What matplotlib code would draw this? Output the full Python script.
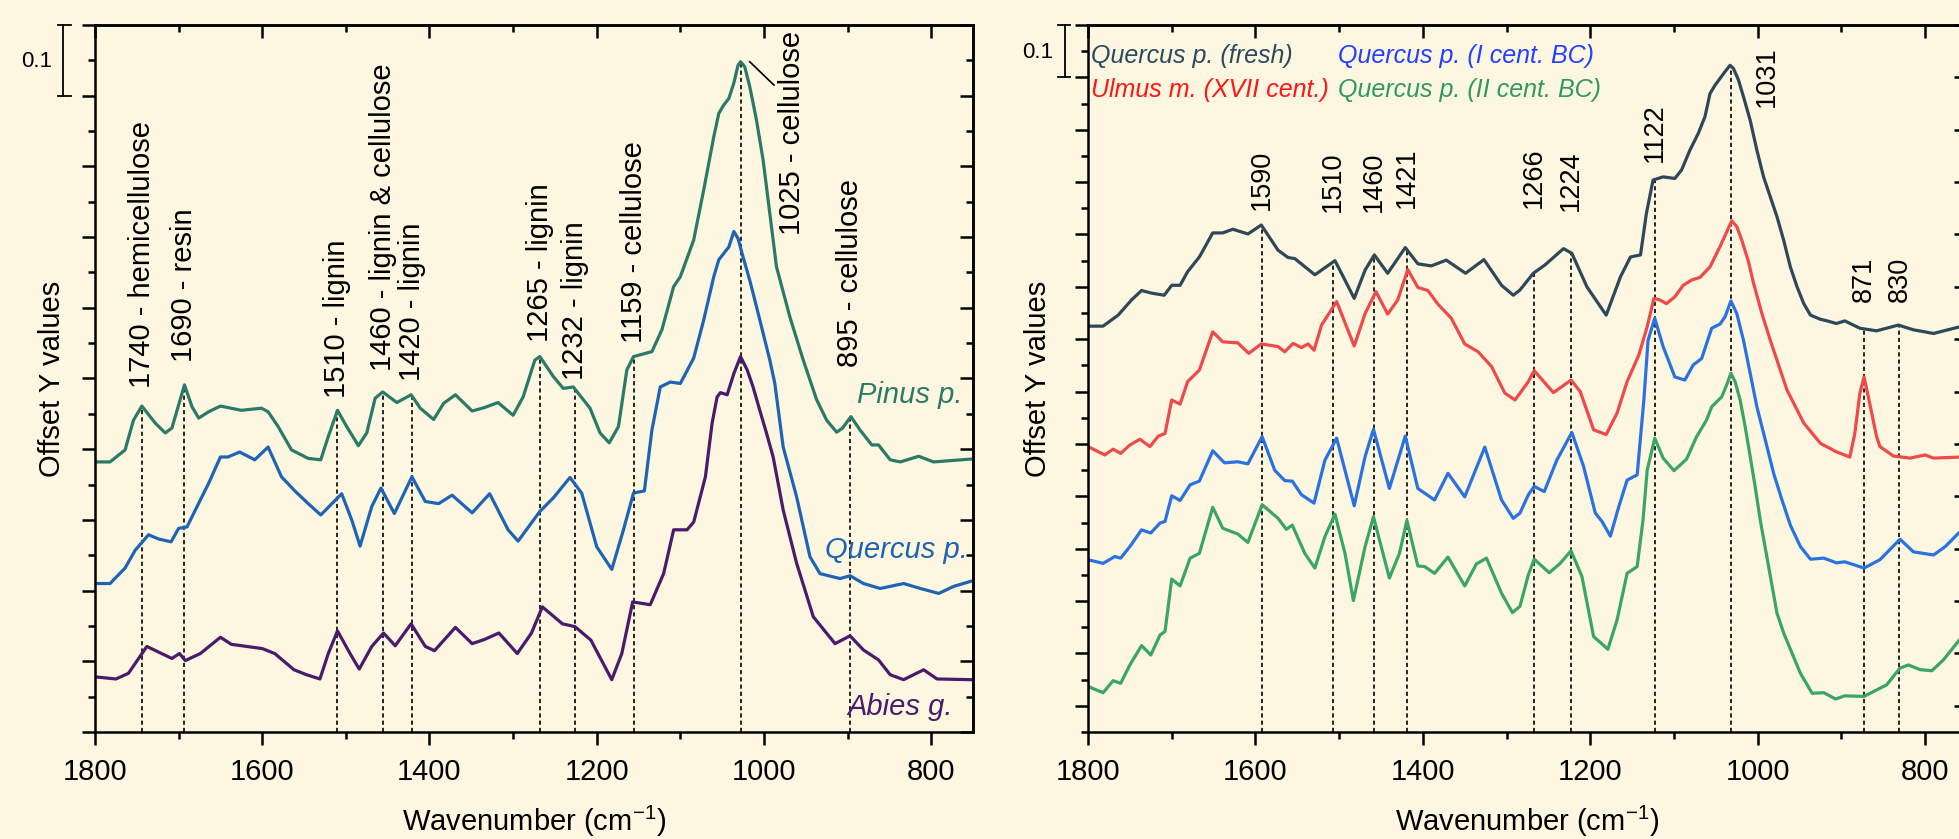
import numpy as np
import matplotlib
matplotlib.use("Agg")
import matplotlib.pyplot as plt
from matplotlib.ticker import MultipleLocator
import matplotlib.transforms as mtransforms

plt.rcParams['font.family'] = ['Liberation Sans', 'DejaVu Sans']
plt.rcParams['mathtext.fontset'] = 'custom'
plt.rcParams['mathtext.rm'] = 'Liberation Sans'
plt.rcParams['mathtext.default'] = 'regular'
plt.rcParams['lines.scale_dashes'] = False

# ---------------- left panel data (wavenumber, offset absorbance) ----------------
pinus_wn = [1800, 1782, 1764, 1754, 1744, 1728, 1716, 1708, 1693, 1684, 1676, 1664, 1650, 1625,
            1601, 1593, 1581, 1565, 1545, 1530, 1521, 1510, 1499, 1485, 1475, 1465, 1456, 1439,
            1422, 1411, 1395, 1383, 1369, 1349, 1334, 1318, 1300, 1288, 1274, 1268, 1252, 1240,
            1228, 1208, 1196, 1185, 1174, 1164, 1156, 1134, 1122, 1108, 1100, 1084, 1072, 1060,
            1054, 1048, 1042, 1036, 1031, 1028, 1023, 1017, 1009, 1001, 985, 969, 953, 937, 925,
            913, 906, 896, 885, 871, 863, 849, 837, 815, 797, 753, 750]
pinus_y = [0.382, 0.382, 0.399, 0.441, 0.461, 0.437, 0.423, 0.430, 0.491, 0.460, 0.444, 0.453, 0.461, 0.455,
           0.458, 0.453, 0.432, 0.399, 0.387, 0.385, 0.418, 0.455, 0.432, 0.405, 0.423, 0.472, 0.481, 0.466,
           0.477, 0.458, 0.442, 0.465, 0.477, 0.454, 0.459, 0.466, 0.448, 0.474, 0.526, 0.531, 0.503, 0.486,
           0.488, 0.458, 0.423, 0.409, 0.432, 0.512, 0.531, 0.538, 0.569, 0.630, 0.644, 0.696, 0.767, 0.842,
           0.875, 0.887, 0.896, 0.918, 0.943, 0.948, 0.941, 0.913, 0.866, 0.809, 0.658, 0.587, 0.526, 0.470, 0.441,
           0.424, 0.430, 0.446, 0.427, 0.406, 0.406, 0.385, 0.382, 0.390, 0.382, 0.386, 0.386]

quercus_wn = [1800, 1782, 1764, 1752, 1736, 1724, 1709, 1700, 1690, 1680, 1664, 1650, 1641, 1627,
              1609, 1593, 1577, 1561, 1545, 1530, 1505, 1493, 1483, 1469, 1458, 1442, 1421, 1405,
              1389, 1373, 1349, 1328, 1306, 1294, 1268, 1252, 1232, 1218, 1200, 1182, 1168, 1156,
              1143, 1134, 1124, 1112, 1100, 1084, 1072, 1060, 1054, 1048, 1042, 1036, 1031, 1025,
              1017, 1009, 1001, 993, 987, 977, 961, 945, 933, 909, 897, 881, 861, 833, 813, 791,
              773, 753, 750]
quercus_y = [0.210, 0.210, 0.232, 0.257, 0.279, 0.273, 0.269, 0.288, 0.290, 0.314, 0.352, 0.389, 0.389, 0.396,
             0.385, 0.403, 0.361, 0.341, 0.323, 0.307, 0.337, 0.300, 0.263, 0.319, 0.345, 0.309, 0.361, 0.326,
             0.323, 0.335, 0.310, 0.337, 0.286, 0.270, 0.312, 0.331, 0.360, 0.338, 0.262, 0.230, 0.286, 0.338,
             0.341, 0.427, 0.488, 0.495, 0.493, 0.529, 0.583, 0.644, 0.668, 0.677, 0.686, 0.708, 0.698, 0.672,
             0.639, 0.602, 0.564, 0.526, 0.493, 0.403, 0.333, 0.248, 0.224, 0.217, 0.221, 0.210, 0.203, 0.210, 0.203, 0.196,
             0.206, 0.213, 0.214]

abies_wn = [1800, 1775, 1760, 1738, 1708, 1699, 1692, 1674, 1650, 1637, 1600, 1585, 1562, 1547,
            1531, 1521, 1510, 1495, 1484, 1469, 1455, 1441, 1422, 1405, 1394, 1369, 1349, 1334,
            1317, 1295, 1278, 1265, 1241, 1226, 1207, 1182, 1170, 1157, 1136, 1120, 1108, 1092,
            1084, 1070, 1062, 1056, 1052, 1044, 1036, 1028, 1020, 1013, 1005, 997, 989, 977, 961,
            941, 915, 897, 881, 863, 849, 833, 809, 793, 753, 750]
abies_y = [0.078, 0.075, 0.083, 0.121, 0.104, 0.111, 0.101, 0.111, 0.134, 0.124, 0.118, 0.111, 0.088, 0.081,
           0.075, 0.111, 0.143, 0.111, 0.089, 0.121, 0.140, 0.122, 0.153, 0.121, 0.115, 0.148, 0.125, 0.131,
           0.140, 0.111, 0.140, 0.177, 0.153, 0.149, 0.130, 0.074, 0.111, 0.184, 0.180, 0.224, 0.286, 0.286,
           0.297, 0.361, 0.437, 0.474, 0.480, 0.477, 0.507, 0.531, 0.512, 0.488, 0.455, 0.423, 0.389, 0.314, 0.239,
           0.163, 0.125, 0.136, 0.116, 0.102, 0.081, 0.074, 0.088, 0.075, 0.074, 0.074]

left_marks = [1744, 1693, 1510, 1456, 1421, 1268, 1226, 1156, 1028, 897]
left_labels = ['1740 - hemicellulose', '1690 - resin', '1510 - lignin', '1460 - lignin & cellulose',
               '1420 - lignin', '1265 - lignin', '1232 - lignin', '1159 - cellulose',
               '1025 - cellulose', '895 - cellulose']

# ---------------- right panel data ----------------
fresh_wn = [1800, 1782, 1764, 1748, 1736, 1724, 1709, 1700, 1690, 1681, 1667, 1651, 1639, 1627,
            1609, 1593, 1573, 1561, 1553, 1529, 1505, 1495, 1482, 1469, 1458, 1442, 1421, 1406,
            1390, 1372, 1349, 1327, 1306, 1292, 1284, 1268, 1254, 1232, 1222, 1204, 1181, 1164,
            1152, 1140, 1133, 1125, 1113, 1099, 1091, 1081, 1071, 1063, 1057, 1051, 1045, 1039,
            1033, 1029, 1023, 1017, 1009, 1001, 993, 985, 977, 969, 961, 953, 945, 937, 925, 917,
            906, 896, 878, 858, 832, 814, 790, 758]
fresh_y = [0.725, 0.725, 0.746, 0.775, 0.793, 0.788, 0.784, 0.803, 0.803, 0.829, 0.857, 0.903, 0.903, 0.910,
           0.901, 0.918, 0.870, 0.856, 0.854, 0.823, 0.850, 0.819, 0.778, 0.832, 0.861, 0.826, 0.875, 0.844,
           0.840, 0.851, 0.826, 0.852, 0.803, 0.784, 0.794, 0.826, 0.842, 0.873, 0.864, 0.800, 0.746, 0.819,
           0.857, 0.861, 0.940, 1.004, 1.010, 1.007, 1.023, 1.061, 1.093, 1.125, 1.169, 1.185, 1.198, 1.211,
           1.223, 1.217, 1.195, 1.163, 1.118, 1.061, 1.010, 0.972, 0.934, 0.889, 0.838, 0.800, 0.768, 0.746, 0.738, 0.735,
           0.730, 0.735, 0.721, 0.716, 0.727, 0.718, 0.711, 0.724]

ulmus_wn = [1800, 1780, 1770, 1761, 1750, 1738, 1726, 1716, 1708, 1700, 1690, 1681, 1667, 1651,
            1639, 1621, 1608, 1593, 1573, 1565, 1555, 1545, 1537, 1530, 1521, 1503, 1482, 1469,
            1456, 1442, 1430, 1418, 1406, 1394, 1382, 1366, 1350, 1334, 1318, 1302, 1290, 1284,
            1274, 1267, 1244, 1223, 1212, 1196, 1181, 1168, 1156, 1142, 1132, 1124, 1117, 1109,
            1099, 1089, 1079, 1069, 1057, 1045, 1037, 1031, 1025, 1019, 1011, 1005, 995, 985, 965,
            945, 925, 906, 890, 884, 878, 873, 868, 858, 854, 838, 818, 800, 790, 758]
ulmus_y = [0.495, 0.479, 0.490, 0.482, 0.498, 0.509, 0.495, 0.515, 0.520, 0.584, 0.576, 0.619, 0.641, 0.714,
           0.695, 0.693, 0.673, 0.691, 0.686, 0.676, 0.692, 0.684, 0.691, 0.679, 0.727, 0.772, 0.687, 0.749,
           0.791, 0.748, 0.775, 0.833, 0.799, 0.793, 0.767, 0.740, 0.691, 0.676, 0.648, 0.597, 0.584, 0.597,
           0.619, 0.640, 0.598, 0.622, 0.600, 0.527, 0.518, 0.559, 0.619, 0.670, 0.724, 0.778, 0.775, 0.768,
           0.781, 0.803, 0.813, 0.818, 0.838, 0.877, 0.905, 0.926, 0.915, 0.889, 0.848, 0.807, 0.749, 0.698, 0.603,
           0.540, 0.501, 0.485, 0.475, 0.520, 0.597, 0.628, 0.591, 0.514, 0.495, 0.477, 0.473, 0.479, 0.473, 0.475]

icent_wn = [1800, 1782, 1768, 1761, 1750, 1736, 1725, 1714, 1708, 1700, 1690, 1678, 1667, 1651,
            1637, 1621, 1609, 1592, 1577, 1565, 1556, 1545, 1530, 1517, 1503, 1482, 1469, 1459,
            1440, 1421, 1406, 1386, 1370, 1350, 1326, 1306, 1292, 1284, 1274, 1267, 1255, 1240,
            1222, 1208, 1194, 1186, 1176, 1166, 1156, 1144, 1136, 1131, 1123, 1113, 1099, 1087,
            1077, 1067, 1055, 1045, 1039, 1032, 1025, 1017, 1009, 1001, 991, 981, 971, 961, 949,
            937, 921, 906, 896, 873, 854, 830, 814, 790, 776, 758]
icent_y = [0.279, 0.272, 0.285, 0.282, 0.304, 0.336, 0.330, 0.349, 0.352, 0.401, 0.392, 0.422, 0.429, 0.487,
           0.464, 0.466, 0.462, 0.514, 0.450, 0.430, 0.429, 0.403, 0.387, 0.469, 0.511, 0.382, 0.476, 0.528,
           0.415, 0.515, 0.415, 0.393, 0.444, 0.399, 0.494, 0.393, 0.358, 0.368, 0.403, 0.419, 0.409, 0.469,
           0.522, 0.457, 0.368, 0.352, 0.324, 0.380, 0.431, 0.441, 0.584, 0.698, 0.740, 0.686, 0.628, 0.622,
           0.651, 0.663, 0.721, 0.729, 0.743, 0.773, 0.749, 0.698, 0.635, 0.571, 0.508, 0.444, 0.393, 0.345, 0.304,
           0.280, 0.282, 0.273, 0.275, 0.263, 0.279, 0.318, 0.294, 0.288, 0.304, 0.333]

iicent_wn = [1800, 1782, 1770, 1761, 1750, 1736, 1725, 1714, 1708, 1700, 1690, 1678, 1667, 1651,
             1639, 1621, 1609, 1592, 1573, 1563, 1556, 1541, 1529, 1517, 1505, 1493, 1483, 1469,
             1459, 1440, 1428, 1419, 1406, 1398, 1386, 1370, 1350, 1336, 1324, 1306, 1293, 1284,
             1274, 1267, 1249, 1236, 1223, 1210, 1196, 1188, 1179, 1168, 1156, 1144, 1137, 1132,
             1123, 1113, 1100, 1085, 1073, 1061, 1055, 1043, 1037, 1032, 1027, 1021, 1015, 1009,
             1003, 997, 987, 977, 969, 949, 935, 921, 907, 896, 873, 862, 846, 830, 820, 806, 792,
             778, 758]
iicent_y = [0.037, 0.025, 0.048, 0.043, 0.078, 0.115, 0.097, 0.135, 0.142, 0.242, 0.229, 0.282, 0.291, 0.379,
            0.339, 0.328, 0.312, 0.384, 0.358, 0.337, 0.345, 0.291, 0.263, 0.323, 0.366, 0.291, 0.201, 0.304,
            0.361, 0.244, 0.291, 0.354, 0.267, 0.266, 0.253, 0.284, 0.229, 0.271, 0.282, 0.215, 0.178, 0.190,
            0.250, 0.280, 0.254, 0.272, 0.296, 0.247, 0.132, 0.121, 0.108, 0.164, 0.253, 0.266, 0.355, 0.450,
            0.511, 0.473, 0.449, 0.471, 0.514, 0.546, 0.571, 0.590, 0.613, 0.635, 0.619, 0.584, 0.533, 0.476,
            0.418, 0.355, 0.266, 0.177, 0.139, 0.062, 0.024, 0.025, 0.013, 0.019, 0.018, 0.027, 0.040, 0.072, 0.078,
            0.069, 0.067, 0.088, 0.128]

right_marks = [1592, 1507, 1458, 1419, 1267, 1223, 1123, 1032, 873, 831]
right_labels = ['1590', '1510', '1460', '1421', '1266', '1224', '1122', '1031', '871', '830']

# ---------------- figure ----------------
BG = '#fdf7e1'
LW = 2.3
fig = plt.figure(figsize=(19.59, 8.39), dpi=100, facecolor=BG)
ax1 = fig.add_axes([95 / 1959, 107 / 839, 878 / 1959, 707 / 839])
ax2 = fig.add_axes([1088 / 1959, 107 / 839, 879 / 1959, 707 / 839])


def style(ax, ylo, yhi):
    ax.set_facecolor(BG)
    ax.set_xlim(1800, 750)
    ax.set_ylim(ylo, yhi)
    ax.xaxis.set_major_locator(MultipleLocator(200))
    ax.xaxis.set_minor_locator(MultipleLocator(100))
    ax.yaxis.set_major_locator(MultipleLocator(0.1))
    ax.yaxis.set_minor_locator(MultipleLocator(0.05))
    for s in ax.spines.values():
        s.set_linewidth(1.8)
    ax.tick_params(which='both', direction='out', width=1.8, top=False, right=False,
                   labelleft=False, labelsize=21, pad=9)
    ax.tick_params(which='major', length=9.6)
    ax.tick_params(which='minor', length=4.8)
    # inward ticks on top and right
    tx = ax.secondary_xaxis('top')
    tx.xaxis.set_major_locator(MultipleLocator(200))
    tx.xaxis.set_minor_locator(MultipleLocator(100))
    tx.tick_params(which='both', direction='in', width=1.8, labeltop=False)
    tx.tick_params(which='major', length=9.6)
    tx.tick_params(which='minor', length=4.8)
    tx.spines['top'].set_linewidth(1.8)
    ty = ax.secondary_yaxis('right')
    ty.yaxis.set_major_locator(MultipleLocator(0.1))
    ty.yaxis.set_minor_locator(MultipleLocator(0.05))
    ty.tick_params(which='both', direction='in', width=1.8, labelright=False)
    ty.tick_params(which='major', length=9.6)
    ty.tick_params(which='minor', length=4.8)
    ty.spines['right'].set_linewidth(1.8)


def scale_bar(ax, x, xc0, xc1, y0, y1, tx, ty):
    tr = mtransforms.blended_transform_factory(ax.transAxes, ax.transData)
    kw = dict(color='black', lw=1.3, transform=tr, clip_on=False)
    ax.plot([x, x], [y0, y1], **kw)
    ax.plot([xc0, xc1], [y0, y0], **kw)
    ax.plot([xc0, xc1], [y1, y1], **kw)
    ax.text(tx, ty, '0.1', transform=tr, fontsize=16, ha='center', va='center')


def guides(ax, marks, top_wn, top_y, ybot):
    xs = np.array(top_wn[::-1], float)
    ys = np.array(top_y[::-1], float)
    for m in marks:
        ax.plot([m, m], [ybot, np.interp(m, xs, ys)], color='black', lw=1.2,
                linestyle=(0, (3, 2.2)), zorder=1)


def curve(ax, x, y, c):
    ax.plot(x, y, color=c, lw=LW, zorder=2, solid_joinstyle='round', solid_capstyle='round')


# ---- left panel ----
style(ax1, 0, 1.0)
guides(ax1, left_marks, pinus_wn, pinus_y, 0)
curve(ax1, pinus_wn, pinus_y, '#2b7a68')
curve(ax1, quercus_wn, quercus_y, '#1f63b3')
curve(ax1, abies_wn, abies_y, '#4a1a6b')

left_text_x = [1744, 1693, 1510, 1456, 1421, 1268, 1226, 1156, 966, 897]
left_text_y = [0.487, 0.524, 0.472, 0.510, 0.496, 0.552, 0.498, 0.550, 0.703, 0.516]
for x, y, s in zip(left_text_x, left_text_y, left_labels):
    ax1.text(x, y, s, rotation=90, ha='center', va='bottom', fontsize=21)
ax1.plot([1017, 988], [0.948, 0.915], color='black', lw=1.2)

ax1.text(762, 0.477, 'Pinus p.', style='italic', color='#2b7a68', fontsize=21, ha='right', va='center')
ax1.text(756, 0.257, 'Quercus p.', style='italic', color='#1f63b3', fontsize=21, ha='right', va='center')
ax1.text(774, 0.036, 'Abies g.', style='italic', color='#4a1a6b', fontsize=21, ha='right', va='center')
scale_bar(ax1, -0.0364, -0.0421, -0.0273, 0.9, 1.0, -0.066, 0.948)

# ---- right panel ----
style(ax2, -0.05, 1.3)
guides(ax2, right_marks, fresh_wn, fresh_y, -0.05)
curve(ax2, fresh_wn, fresh_y, '#2e4759')
curve(ax2, ulmus_wn, ulmus_y, '#ee4a4a')
curve(ax2, icent_wn, icent_y, '#2a72e0')
curve(ax2, iicent_wn, iicent_y, '#3aa564')

right_text_x = [1592, 1507, 1458, 1419, 1267, 1223, 1123, 989, 873, 830]
right_text_y = [0.947, 0.943, 0.943, 0.950, 0.950, 0.945, 1.039, 1.144, 0.772, 0.772]
for x, y, s in zip(right_text_x, right_text_y, right_labels):
    ax2.text(x, y, s, rotation=90, ha='center', va='bottom', fontsize=19.5)

ax2.text(1796, 1.241, 'Quercus p. (fresh)', style='italic', color='#2b4a5e', fontsize=18, va='center')
ax2.text(1501, 1.241, 'Quercus p. (I cent. BC)', style='italic', color='#2140ff', fontsize=18, va='center')
ax2.text(1796, 1.175, 'Ulmus m. (XVII cent.)', style='italic', color='#ff1414', fontsize=18, va='center')
ax2.text(1501, 1.175, 'Quercus p. (II cent. BC)', style='italic', color='#2e9a5c', fontsize=18, va='center')
scale_bar(ax2, -0.0262, -0.0341, -0.0205, 1.2, 1.3, -0.0575, 1.248)

# axis titles
for xc in (52, 1038):
    fig.text(xc / 1959, 0.549, 'Offset Y values', rotation=90, ha='center', va='center', fontsize=21)
for xc in (534, 1527):
    fig.text(xc / 1959, 8 / 839, 'Wavenumber (cm$^{-1}$)', ha='center', va='baseline', fontsize=21)

fig.savefig('out.png', dpi=100, facecolor=BG)
